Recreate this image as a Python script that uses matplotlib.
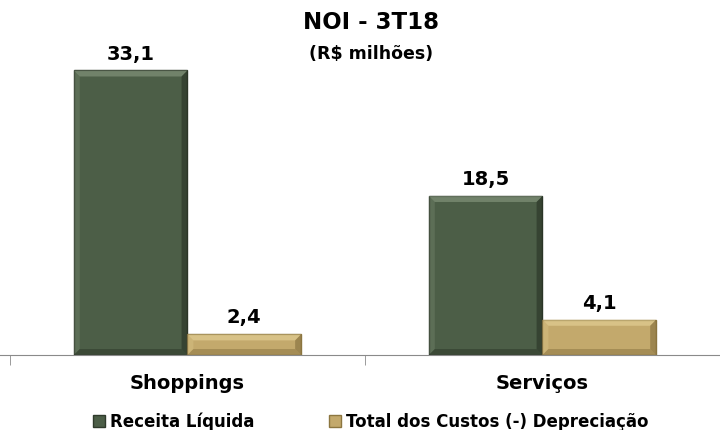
import numpy as np
import matplotlib.pyplot as plt
from matplotlib.patches import Patch, Polygon

# data
categorias = ['Shoppings', 'Serviços']
receita_liquida = [33.1, 18.5]
total_custos = [2.4, 4.1]
series = ['Receita Líquida', 'Total dos Custos (-) Depreciação']

verde = '#4c5e47'
dourado = '#c3a96c'

fig = plt.figure(figsize=(7.2, 4.3), dpi=100)
ax = fig.add_axes([0, 0.1744, 1, 0.8256])

ax.set_xlim(-0.528, 1.466)
ax.set_ylim(0, 41.3)

x = np.arange(len(categorias))
w = 0.32
b1 = ax.bar(x - w / 2, receita_liquida, w, color=verde, edgecolor='#2f3a2b', linewidth=1.0)
b2 = ax.bar(x + w / 2, total_custos, w, color=dourado, edgecolor='#8c7640', linewidth=1.0)


def bevel(bar, luz, sombra):
    # faixas claras/escuras nas bordas para imitar o efeito 3D
    x0, y0 = bar.get_x(), bar.get_y()
    x1, y1 = x0 + bar.get_width(), y0 + bar.get_height()
    dx, dy = 6 / 361, 6 / 8.6
    dy = min(dy, bar.get_height() / 3)
    topo = [(x0, y1), (x1, y1), (x1 - dx, y1 - dy), (x0 + dx, y1 - dy)]
    esq = [(x0, y0), (x0, y1), (x0 + dx, y1 - dy), (x0 + dx, y0 + dy)]
    dir_ = [(x1, y0), (x1, y1), (x1 - dx, y1 - dy), (x1 - dx, y0 + dy)]
    base = [(x0, y0), (x1, y0), (x1 - dx, y0 + dy), (x0 + dx, y0 + dy)]
    for pts, c, a in [(topo, luz, 0.45), (esq, luz, 0.2), (dir_, sombra, 0.45), (base, sombra, 0.35)]:
        ax.add_patch(Polygon(pts, closed=True, facecolor=c, edgecolor='none', alpha=a))


for bar in b1:
    bevel(bar, '#9fb096', '#1c2419')
for bar in b2:
    bevel(bar, '#f3e2a8', '#6e5a2c')

# value labels
for bars, vals in [(b1, receita_liquida), (b2, total_custos)]:
    for bar, v in zip(bars, vals):
        ax.annotate(f'{v:.1f}'.replace('.', ','),
                    (bar.get_x() + bar.get_width() / 2, bar.get_height()),
                    xytext=(0, 5), textcoords='offset points',
                    ha='center', va='bottom', fontsize=14, fontweight='bold')

for s in ['top', 'right', 'left']:
    ax.spines[s].set_visible(False)
ax.spines['bottom'].set_color('#8a8a8a')
ax.set_yticks([])

ax.set_xticks(x)
ax.set_xticklabels(categorias, fontsize=14, fontweight='bold')
ax.tick_params(axis='x', which='major', length=0, pad=14)
ax.set_xticks([-0.5, 0.5, 1.5], minor=True)
ax.tick_params(axis='x', which='minor', length=7, color='#8a8a8a')

fig.text(0.515, 0.948, 'NOI - 3T18', ha='center', va='center', fontsize=16.5, fontweight='bold')
fig.text(0.515, 0.874, '(R$ milhões)', ha='center', va='center', fontsize=12.5, fontweight='bold')

handles = [Patch(facecolor=verde, edgecolor='#2f3a2b'), Patch(facecolor=dourado, edgecolor='#8c7640')]
leg = fig.legend(handles, series, loc='center', bbox_to_anchor=(0.515, 0.02), ncol=2,
                 frameon=False, handlelength=0.7, handleheight=0.7, handletextpad=0.3,
                 columnspacing=4.5, prop={'weight': 'bold', 'size': 12})

fig.savefig('out.png', dpi=100)
